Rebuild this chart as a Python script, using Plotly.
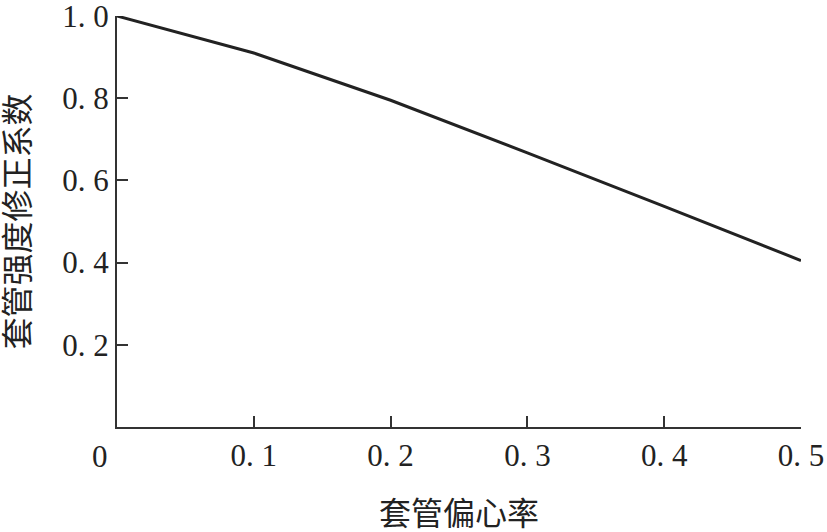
import plotly.graph_objects as go

eccentricity = [0.0, 0.1, 0.2, 0.3, 0.4, 0.5]
correction = [1.0, 0.91, 0.795, 0.667, 0.537, 0.405]

x_tickvals = [0.1, 0.2, 0.3, 0.4, 0.5]
x_ticktext = ["0. 1", "0. 2", "0. 3", "0. 4", "0. 5"]
y_tickvals = [0.2, 0.4, 0.6, 0.8, 1.0]
y_ticktext = ["0. 2", "0. 4", "0. 6", "0. 8", "1. 0"]

FONT = "Liberation Serif, Noto Sans CJK SC"

fig = go.Figure()
fig.add_trace(go.Scatter(x=eccentricity, y=correction, mode="lines",
                         line=dict(color="#222222", width=3), showlegend=False,
                         cliponaxis=False))

fig.update_layout(
    width=827, height=532,
    margin=dict(l=117, r=26, t=16, b=105),
    plot_bgcolor="white", paper_bgcolor="white",
    font=dict(family=FONT, size=31, color="#222222"),
)
fig.update_xaxes(
    range=[0, 0.5], tickvals=x_tickvals, ticktext=x_ticktext,
    ticks="inside", ticklen=11, tickwidth=2, tickcolor="#333333",
    showline=True, linecolor="#333333", linewidth=2,
    showgrid=False, zeroline=False, automargin=False,
    ticklabeloverflow="allow",
    title=dict(text="套管偏心率", standoff=33, font=dict(size=32, family=FONT)),
)
fig.update_yaxes(
    range=[0, 1.0], tickvals=y_tickvals, ticktext=y_ticktext,
    ticks="inside", ticklen=11, tickwidth=2, tickcolor="#333333",
    showline=True, linecolor="#333333", linewidth=2,
    showgrid=False, zeroline=False, automargin=False,
    ticklabeloverflow="allow",
    title=dict(text="套管强度修正系数", standoff=30, font=dict(size=32, family=FONT)),
)
fig.add_annotation(x=0, y=0, xref="x", yref="y", text="0", showarrow=False,
                   xanchor="center", yanchor="top", xshift=-17, yshift=-10,
                   font=dict(size=31, family=FONT, color="#222222"))

fig.write_html("out.html", config={"displayModeBar": False},
               post_script="document.body.style.margin='0';document.body.style.overflow='hidden';")
